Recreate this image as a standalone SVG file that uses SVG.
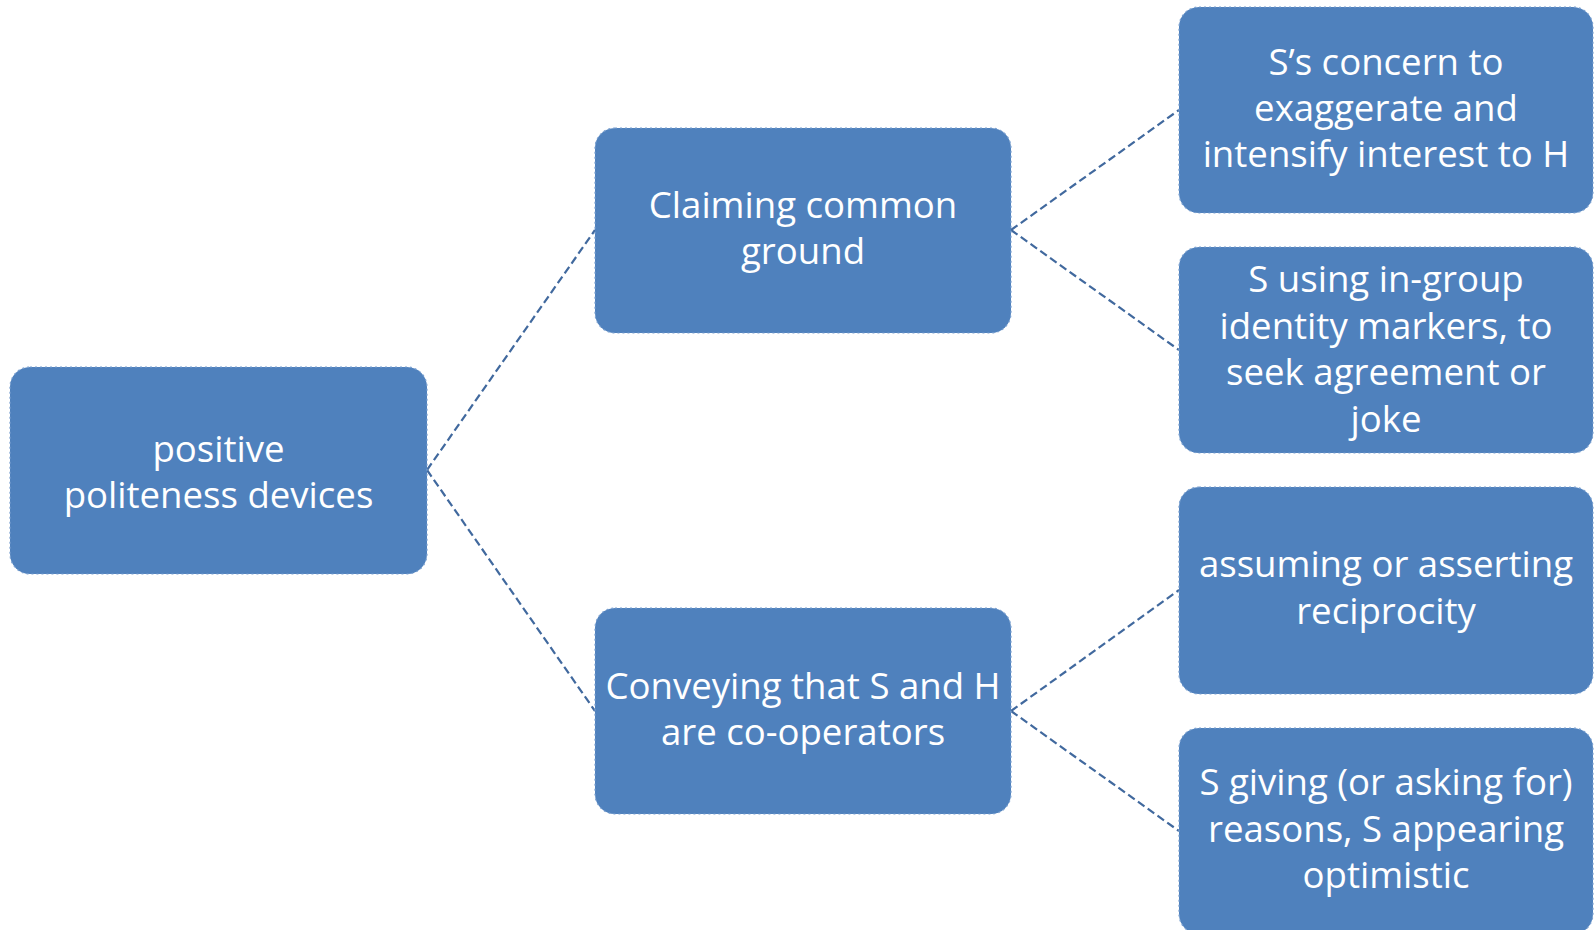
<svg xmlns="http://www.w3.org/2000/svg" width="1594" height="930" viewBox="0 0 1594 930">
<style>
.box{fill:#4f81bd;stroke:#7aa0d0;stroke-width:1.2;stroke-dasharray:2 3}
.lbl{fill:#ffffff;font-family:"Open Sans","Liberation Sans",sans-serif;font-size:36.6px;text-anchor:middle}
.conn{fill:none;stroke:#41699e;stroke-width:2.2;stroke-dasharray:8 4}
</style>
<rect width="1594" height="930" fill="#ffffff"/>
<g id="connectors">
<line class="conn" x1="427" y1="470" x2="595" y2="230"/>
<line class="conn" x1="427" y1="470" x2="595" y2="711"/>
<line class="conn" x1="1011" y1="230" x2="1179" y2="110"/>
<line class="conn" x1="1011" y1="230" x2="1179" y2="350"/>
<line class="conn" x1="1011" y1="711" x2="1179" y2="590"/>
<line class="conn" x1="1011" y1="711" x2="1179" y2="831"/>
</g>
<g id="root">
<rect class="box" x="10" y="367" width="417" height="207" rx="20"/>
<text class="lbl" x="218.5" y="462">positive</text>
<text class="lbl" x="218.5" y="508">politeness devices</text>
</g>
<g id="claiming">
<rect class="box" x="595" y="128" width="416" height="205" rx="20"/>
<text class="lbl" x="803" y="218">Claiming common</text>
<text class="lbl" x="803" y="264">ground</text>
</g>
<g id="conveying">
<rect class="box" x="595" y="608" width="416" height="206" rx="20"/>
<text class="lbl" x="803" y="699">Conveying that S and H</text>
<text class="lbl" x="803" y="745">are co-operators</text>
</g>
<g id="concern">
<rect class="box" x="1179" y="7" width="414" height="206" rx="20"/>
<text class="lbl" x="1386" y="75">S’s concern to</text>
<text class="lbl" x="1386" y="121">exaggerate and</text>
<text class="lbl" x="1386" y="167">intensify interest to H</text>
</g>
<g id="ingroup">
<rect class="box" x="1179" y="247" width="414" height="206" rx="20"/>
<text class="lbl" x="1386" y="292">S using in-group</text>
<text class="lbl" x="1386" y="339">identity markers, to</text>
<text class="lbl" x="1386" y="385">seek agreement or</text>
<text class="lbl" x="1386" y="432">joke</text>
</g>
<g id="reciprocity">
<rect class="box" x="1179" y="487" width="414" height="207" rx="20"/>
<text class="lbl" x="1386" y="577">assuming or asserting</text>
<text class="lbl" x="1386" y="624">reciprocity</text>
</g>
<g id="reasons">
<rect class="box" x="1179" y="728" width="414" height="206" rx="20"/>
<text class="lbl" x="1386" y="795">S giving (or asking for)</text>
<text class="lbl" x="1386" y="842">reasons, S appearing</text>
<text class="lbl" x="1386" y="888">optimistic</text>
</g>
</svg>
